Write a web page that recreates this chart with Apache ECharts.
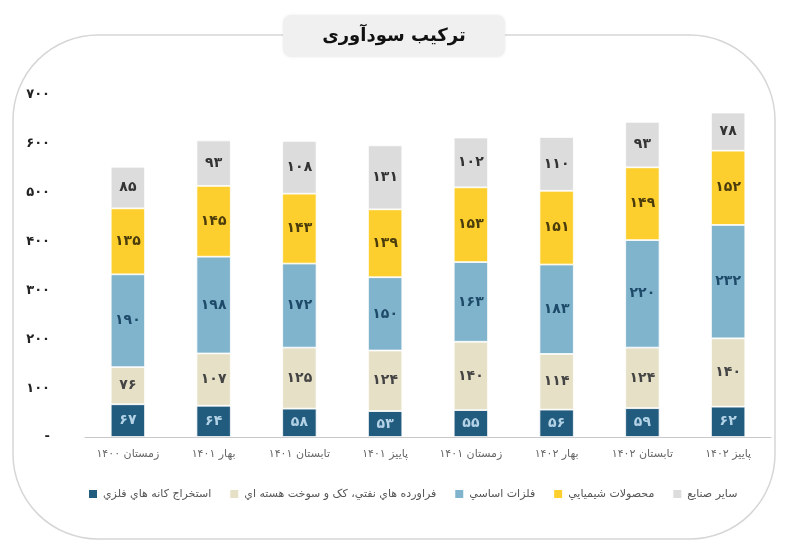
<!DOCTYPE html>
<html><head><meta charset="utf-8">
<script src="https://cdn.jsdelivr.net/npm/echarts@6/dist/echarts.min.js"></script>
<style>html,body{margin:0;padding:0;background:#fff}#c{width:800px;height:558px}</style>
</head><body><div id="c"></div>
<script>
const categories = ['زمستان ۱۴۰۰','بهار ۱۴۰۱','تابستان ۱۴۰۱','پاییز ۱۴۰۱','زمستان ۱۴۰۱','بهار ۱۴۰۲','تابستان ۱۴۰۲','پاییز ۱۴۰۲'];
const seriesNames = ['استخراج كانه هاي فلزي','فراورده هاي نفتي، کک و سوخت هسته اي','فلزات اساسي','محصولات شيميايي','ساير صنايع'];
const mining    = [67, 64, 58, 53, 55, 56, 59, 62];
const refined   = [76, 107, 125, 124, 140, 114, 124, 140];
const metals    = [190, 198, 172, 150, 163, 183, 220, 232];
const chemicals = [135, 145, 143, 139, 153, 151, 149, 152];
const others    = [85, 93, 108, 131, 102, 110, 93, 78];
const yTicks = [0, 100, 200, 300, 400, 500, 600, 700];
const title = 'ترکیب سودآوری';

const colors = ['#215b7d', '#e6e0c6', '#80b3cc', '#fccf2e', '#dcdcdc'];
const labelColors = ['#b3d2e6', '#444444', '#1d4a68', '#4a3c0c', '#333333'];
const FONT = 'DejaVu Sans';
const fa = n => String(n).replace(/\d/g, d => '۰۱۲۳۴۵۶۷۸۹'[d]);

const data = [mining, refined, metals, chemicals, others];
const chart = echarts.init(document.getElementById('c'), null, {renderer: 'canvas'});
chart.setOption({
  animation: false,
  textStyle: {fontFamily: FONT},
  graphic: [
    {type: 'rect', shape: {x: 13, y: 35, width: 762, height: 504, r: 85}, style: {fill: 'none', stroke: '#d6d6d6', lineWidth: 1.5}, z: 0},
    {type: 'rect', shape: {x: 283, y: 15, width: 222, height: 42, r: 8}, style: {fill: '#f0f0f0', shadowBlur: 3, shadowColor: 'rgba(0,0,0,0.08)'}, z: 1},
    {type: 'text', x: 394, y: 36, style: {text: title, fill: '#111', font: 'bold 18px "DejaVu Sans"', align: 'center', verticalAlign: 'middle'}, z: 2}
  ],
  grid: {left: 85, right: 29, top: 95, bottom: 121},
  legend: {
    top: 483, left: 82, width: 700, itemWidth: 10, itemHeight: 10, itemGap: 17, icon: 'rect',
    textStyle: {color: '#555', fontSize: 11, fontFamily: FONT},
    data: seriesNames
  },
  xAxis: {
    type: 'category', data: categories,
    axisLine: {lineStyle: {color: '#c8c8c8'}},
    axisTick: {show: false},
    axisLabel: {interval: 0, color: '#666', fontSize: 11, margin: 12, fontFamily: FONT}
  },
  yAxis: {
    type: 'value', min: yTicks[0], max: yTicks[yTicks.length - 1], interval: 100,
    splitLine: {show: false}, axisLine: {show: false}, axisTick: {show: false},
    axisLabel: {margin: 35, color: '#222', fontSize: 13, fontWeight: 'bold', fontFamily: FONT,
      formatter: v => v === 0 ? '-' : fa(v)}
  },
  series: data.map((d, i) => ({
    name: seriesNames[i], type: 'bar', stack: 'total', barWidth: '40%',
    data: d,
    itemStyle: {color: colors[i], borderColor: '#ffffff', borderWidth: 0.8},
    label: {show: true, position: 'inside', color: labelColors[i], fontSize: 14, fontWeight: 'bold', fontFamily: FONT,
      formatter: p => fa(p.value)}
  }))
});
</script></body></html>
